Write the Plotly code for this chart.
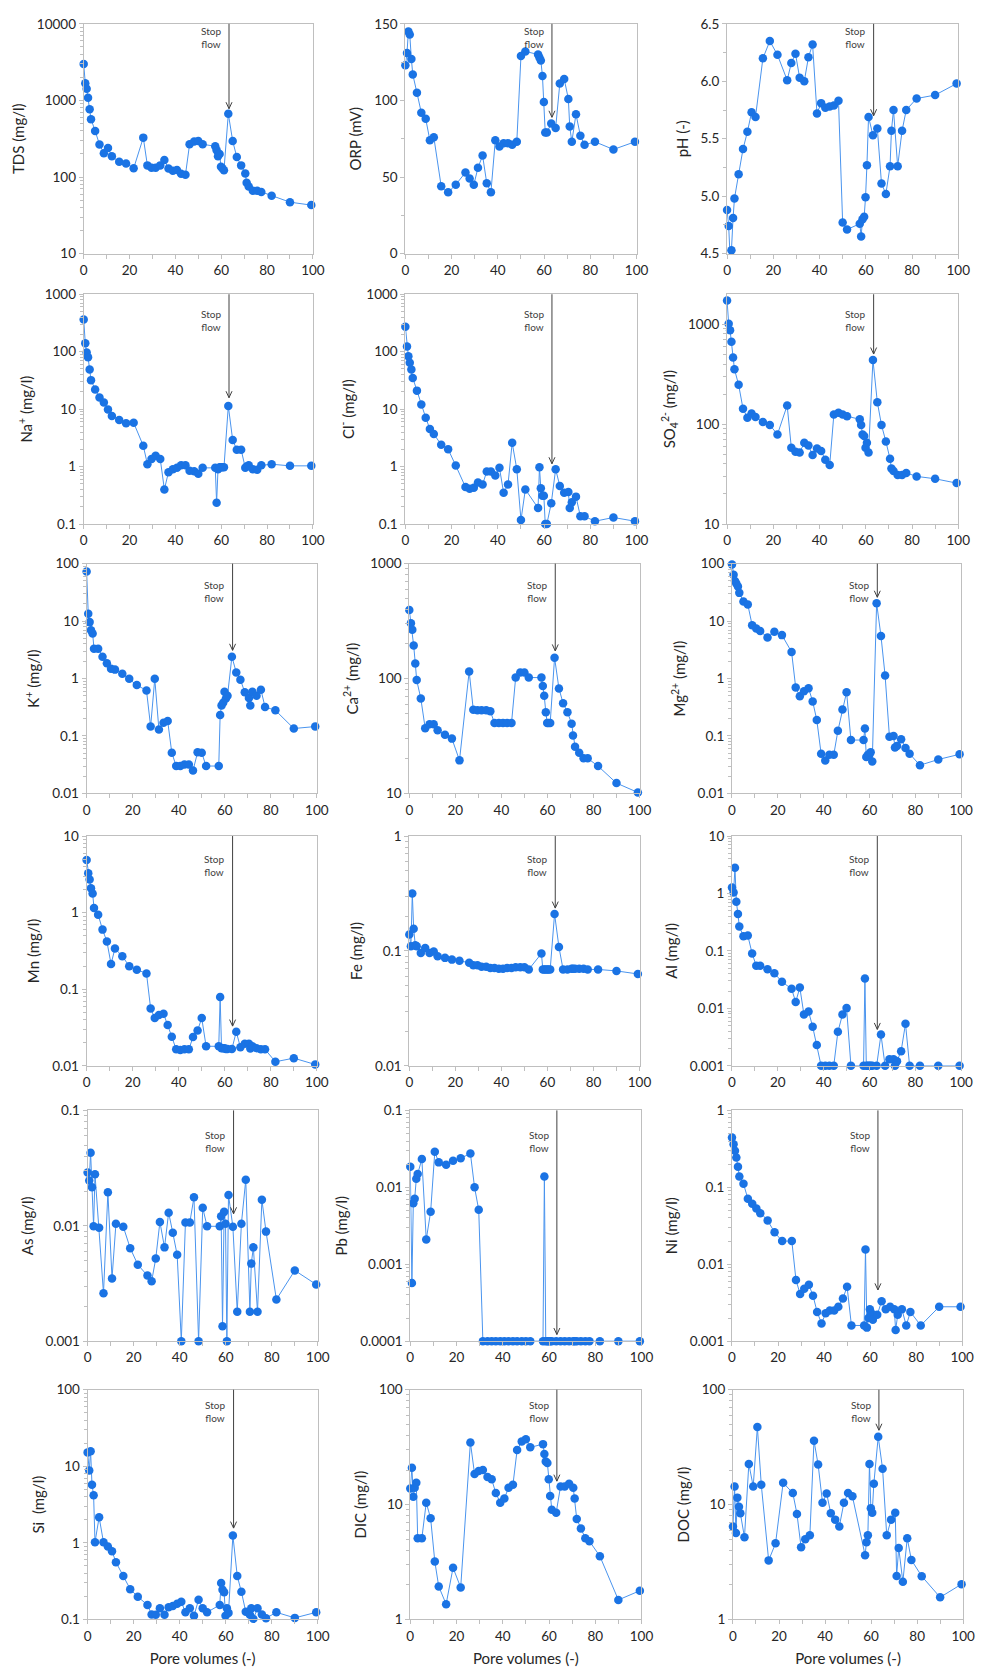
import math
import plotly.graph_objects as go

# ---------------- data ----------------
PV = [0, 0.7, 1.3, 1.9, 2.6, 3.2, 5, 6.9, 8.8, 10.6, 12.3, 15.5, 18.5, 21.8,
      26, 27.8, 29.6, 31.4, 33.4, 35.2, 37, 38.9, 40.7, 42.5, 44.4, 46.2, 48.2, 50, 51.9,
      57.4, 58, 58.6, 59.3, 59.9, 60.5, 61.2, 63.1, 65, 66.8, 68.7, 70.5, 71.1, 72, 73.8,
      75.7, 77.5, 82, 90, 99.3]

TDS = [3000, 1680, 1420, 1086, 767, 570, 400, 266, 205, 240, 187, 158, 150, 130,
       327, 142, 132, 132, 142, 167, 129, 121, 124, 110, 107, 268, 291, 296, 268,
       252, 223, 187, 200, 136, 130, 123, 668, 296, 182, 142, 111, 84, 75, 66, 66, 64,
       57, 47, 43]
ORP = [123, 131, 145, 143, 127, 117, 105, 92, 88, 74, 76, 44, 40, 45,
       53, 49, 45, 56, 64, 46, 40, 74, 70, 72, 72, 71, 73, 129, 132,
       130, 128, 126, 116, 99, 79, 79, 85, 82, 111, 114, 101, 83, 73, 91, 77, 71,
       73, 68, 73]
PH = [4.88, 4.74, 4.48, 4.53, 4.81, 4.98, 5.19, 5.41, 5.56, 5.73, 5.69, 6.20, 6.35, 6.23,
      6.01, 6.16, 6.24, 6.03, 6.00, 6.21, 6.32, 5.72, 5.81, 5.77, 5.78, 5.79, 5.83, 4.77, 4.71,
      4.76, 4.65, 4.80, 4.82, 4.99, 5.27, 5.69, 5.53, 5.59, 5.11, 5.02, 5.26, 5.57, 5.75, 5.26,
      5.57, 5.75, 5.85, 5.88, 5.98]
NA = [365, 140, 97, 80, 49, 32, 22, 16, 13, 9.9, 7.6, 6.5, 5.7, 5.8,
      2.3, 1.1, 1.36, 1.55, 1.36, 0.40, 0.80, 0.90, 0.95, 1.05, 1.05, 0.85, 0.83, 0.75, 0.95,
      0.95, 0.235, 0.9, 0.97, 0.97, 0.97, 0.97, 11.3, 2.9, 1.97, 1.97, 0.95, 1.0, 1.05, 0.9,
      0.88, 1.05, 1.1, 1.03, 1.03]
CL = [273, 123, 83, 64, 49, 35, 21, 12, 7.1, 4.5, 3.7, 2.4, 2.0, 1.04,
      0.44, 0.41, 0.43, 0.53, 0.49, 0.82, 0.82, 0.7, 0.95, 0.35, 0.49, 2.6, 0.9, 0.117, 0.40,
      0.19, 0.97, 0.42, 0.31, 0.31, 0.1, 0.1, 0.23, 0.9, 0.46, 0.35, 0.36, 0.19, 0.24, 0.3,
      0.136, 0.136, 0.112, 0.13, 0.112]
SO4 = [1730, 1015, 872, 668, 464, 355, 248, 143, 116, 128, 118, 105, 98, 79,
       154, 58, 53, 52, 65, 61, 49, 57, 54, 44, 39, 125, 130, 125, 120,
       112, 98, 79, 76, 58, 65, 52, 440, 166, 98, 67, 45, 36, 34, 31, 31, 32.5,
       30, 28.4, 25.7]
K = [73, 13.4, 9.6, 6.9, 6.1, 3.3, 3.3, 2.4, 1.85, 1.48, 1.43, 1.21, 0.99, 0.77,
     0.62, 0.146, 0.99, 0.13, 0.17, 0.183, 0.051, 0.030, 0.030, 0.032, 0.032, 0.025, 0.052, 0.051, 0.030,
     0.030, 0.232, 0.34, 0.38, 0.59, 0.45, 0.5, 2.4, 1.28, 0.95, 0.58, 0.46, 0.34, 0.59, 0.5,
     0.64, 0.32, 0.28, 0.135, 0.146]
CA = [395, 303, 266, 194, 135, 97, 67, 37, 40, 40, 35.5, 32.5, 30, 19.4,
      115, 53.5, 53, 53, 53, 52, 41, 41, 41, 41, 41, 102, 113, 113, 102,
      102, 86, 71, 51, 41, 41, 41, 152, 82, 61, 51, 40.5, 32, 25.5, 22.6, 20.2, 20.2,
      17.3, 12.3, 10.2]
MG = [97, 64, 50, 45, 40, 31, 22, 19.4, 8.5, 7.4, 6.7, 5.2, 6.5, 5.7,
      2.9, 0.70, 0.49, 0.6, 0.68, 0.40, 0.19, 0.049, 0.0375, 0.047, 0.047, 0.123, 0.29, 0.58, 0.085,
      0.085, 0.135, 0.043, 0.047, 0.047, 0.052, 0.036, 20.5, 5.5, 1.13, 0.097, 0.1, 0.063, 0.067,
      0.088, 0.062, 0.049, 0.031, 0.039, 0.048]
MN = [4.85, 3.26, 2.7, 2.08, 1.78, 1.15, 0.94, 0.60, 0.42, 0.213, 0.34, 0.27, 0.20, 0.18,
      0.161, 0.056, 0.042, 0.046, 0.048, 0.034, 0.024, 0.0164, 0.0161, 0.0164, 0.0164, 0.0237,
      0.029, 0.042, 0.018, 0.018, 0.079, 0.0169, 0.017, 0.017, 0.0166, 0.0166,
      0.0166, 0.0278, 0.0175, 0.0194, 0.0194, 0.0168, 0.018, 0.017, 0.0164, 0.0164,
      0.0113, 0.0126, 0.0104]
FE = [0.139, 0.11, 0.316, 0.156, 0.112, 0.11, 0.096, 0.106, 0.096, 0.099, 0.09, 0.087, 0.084, 0.082,
      0.079, 0.075, 0.075, 0.073, 0.073, 0.071, 0.071, 0.07, 0.07, 0.071, 0.071, 0.072, 0.072, 0.072,
      0.069, 0.095, 0.069, 0.069, 0.069, 0.069, 0.069, 0.069, 0.21, 0.108, 0.069, 0.069, 0.07,
      0.07, 0.07, 0.07, 0.07, 0.069, 0.069, 0.067, 0.063]
AL = [1.27, 1.04, 2.8, 0.72, 0.44, 0.266, 0.18, 0.185, 0.09, 0.055, 0.055, 0.048, 0.041, 0.029,
      0.0219, 0.0129, 0.023, 0.0078, 0.0088, 0.0048, 0.0023, 0.001, 0.001, 0.001, 0.001, 0.0039,
      0.0078, 0.0101, 0.001, 0.001, 0.033, 0.001, 0.001, 0.001, 0.001, 0.001,
      0.001, 0.0035, 0.001, 0.0013, 0.0013, 0.001, 0.0012, 0.0018, 0.0054, 0.001,
      0.001, 0.001, 0.001]
AS = [0.029, 0.0247, 0.043, 0.0216, 0.0099, 0.028, 0.0096, 0.0026, 0.0195, 0.0035, 0.0104,
      0.0098, 0.0064, 0.0046, 0.0037, 0.0033, 0.0052, 0.0108, 0.0065, 0.013, 0.0087, 0.0056,
      0.001, 0.0107, 0.0107, 0.0177, 0.001, 0.0143, 0.0099, 0.0099, 0.0121, 0.00135, 0.0132,
      0.0104, 0.001, 0.0185, 0.0098, 0.0018, 0.0104, 0.025, 0.0018, 0.0047, 0.0065, 0.0018,
      0.0168, 0.0089, 0.0023, 0.0041, 0.0031]
PB = [0.0185, 0.00057, 0.0062, 0.0071, 0.0129, 0.0149, 0.0233, 0.0021, 0.0048, 0.029, 0.0211,
      0.0197, 0.0222, 0.0238, 0.0276, 0.01, 0.0051, 0.0001, 0.0001, 0.0001, 0.0001, 0.0001,
      0.0001, 0.0001, 0.0001, 0.0001, 0.0001, 0.0001, 0.0001, 0.0001, 0.0138, 0.0001, 0.0001,
      0.0001, 0.0001, 0.0001, 0.0001, 0.0001, 0.0001, 0.0001, 0.0001, 0.0001, 0.0001, 0.0001,
      0.0001, 0.0001, 0.0001, 0.0001, 0.0001]
NI = [0.444, 0.364, 0.299, 0.245, 0.185, 0.138, 0.111, 0.071, 0.061, 0.053, 0.046, 0.037, 0.026,
      0.020, 0.020, 0.00625, 0.0041, 0.0048, 0.0054, 0.0039, 0.0024, 0.0017, 0.0023, 0.0025,
      0.0025, 0.0028, 0.0036, 0.0051, 0.0016, 0.0016, 0.0156, 0.0015, 0.002, 0.0026, 0.0023,
      0.0019, 0.0022, 0.0033, 0.0026, 0.0028, 0.0026, 0.0014, 0.0022, 0.0026, 0.0016, 0.0024,
      0.0016, 0.0028, 0.0028]
SI = [15.2, 8.8, 15.7, 5.75, 4.2, 1.02, 2.16, 1.02, 0.90, 0.78, 0.56, 0.37, 0.249, 0.198,
      0.155, 0.116, 0.115, 0.14, 0.115, 0.145, 0.15, 0.16, 0.17, 0.124, 0.14, 0.112, 0.181, 0.14,
      0.124, 0.155, 0.30, 0.245, 0.227, 0.112, 0.14, 0.122, 1.25, 0.37, 0.23, 0.126, 0.115, 0.14,
      0.102, 0.14, 0.116, 0.104, 0.124, 0.105, 0.124]
DIC = [13.8, 20.9, 11.7, 14, 15.5, 5.1, 5.1, 10.4, 7.6, 3.2, 1.94, 1.36, 2.82, 1.9,
       34.7, 18.5, 19.6, 20, 17.4, 16.6, 12.6, 10.4, 11.3, 14, 14.9, 29.8, 35.5, 37.1, 31.5,
       33.6, 27.6, 23.7, 23, 16.6, 11.9, 9, 8.5, 14.4, 14.4, 15.2, 14, 11.3, 7.5, 6.2, 5.1, 4.8,
       3.56, 1.48, 1.78]
DOC = [6.45, 14.4, 5.65, 11.5, 9.6, 8.4, 5.2, 22.6, 14.4, 47.4, 14.9, 3.27, 4.6, 15.5,
       12.6, 8.3, 4.25, 5.0, 5.4, 35.9, 22.3, 10.4, 12.5, 8.4, 7.4, 6.45, 10.4, 12.6, 11.8,
       3.63, 4.7, 5.4, 22.6, 9.3, 8.5, 15.2, 38.9, 20.5, 5.4, 7.4, 8.5, 2.39, 4.2, 2.13, 5.1, 3.3,
       2.38, 1.56, 2.03]

TITLES = ["TDS (mg/l)", "ORP (mV)", "pH (-)",
          "Na<sup>+</sup> (mg/l)", "Cl<sup>-</sup> (mg/l)", "SO<sub>4</sub><sup>2-</sup> (mg/l)",
          "K<sup>+</sup> (mg/l)", "Ca<sup>2+</sup> (mg/l)", "Mg<sup>2+</sup> (mg/l)",
          "Mn (mg/l)", "Fe (mg/l)", "Al (mg/l)",
          "As (mg/l)", "Pb (mg/l)", "Ni (mg/l)",
          "Si  (mg/l)", "DIC (mg/l)", "DOC (mg/l)"]
SERIES = [TDS, ORP, PH, NA, CL, SO4, K, CA, MG, MN, FE, AL, AS, PB, NI, SI, DIC, DOC]
# y ranges: log panels as decade exponents, linear panels as values
YRANGES = [(1, 4), (0, 150), (4.5, 6.5), (-1, 3), (-1, 3), (1, math.log10(2000)),
           (-2, 2), (1, 3), (-2, 2), (-2, 1), (-2, 0), (-3, 1),
           (-3, -1), (-4, -1), (-3, 0), (-1, 2), (0, 2), (0, 2)]
LINEAR = {1: (50, 25, "d"), 2: (0.5, 0.25, ".1f")}
STOP_PV = 63.4
STOP_TIP = [780, 89, 5.70, 15.8, 1.12, 504, 3.1, 174, 26, 0.033, 0.236, 0.0043,
            0.0127, 0.000122, 0.00464, 1.56, 16, 44.4]
X_TICKS = [0, 20, 40, 60, 80, 100]
X_TITLE = "Pore volumes (-)"

# ---------------- layout geometry (pixels) ----------------
W, H = 985, 1679
ROWS = [(16, 248), (289, 521), (561, 793), (836, 1068), (1113, 1346), (1395, 1627)]
COLS = [[(81, 314), (408, 643), (735, 970)],
        [(81, 314), (408, 643), (735, 970)],
        [(84, 318), (412, 646), (740, 973)],
        [(84, 318), (412, 646), (740, 973)],
        [(85, 319), (413, 648), (740, 974)],
        [(85, 319), (413, 648), (741, 975)]]
TEXT_OFF = [14, 26.5, 28, 30, 31.5, 22.5]

FONT = "Lato, 'Liberation Sans', Arial, sans-serif"
TXT = "#262626"
AXC = "#bfbfbf"
MARK = "#1a73e4"
LINEC = "#4a94ee"
ARROWC = "#404040"


def log_label(e):
    return str(10 ** e) if e >= 0 else f"{10 ** e:.{-e}f}"


fig = go.Figure()
layout = dict(width=W, height=H, margin=dict(l=0, r=0, t=0, b=0),
              paper_bgcolor="white", plot_bgcolor="white",
              font=dict(family=FONT, color=TXT, size=13), showlegend=False)
annotations = []
shapes = []

for i in range(18):
    r, c = divmod(i, 3)
    n = i + 1
    sx = "" if n == 1 else str(n)
    (x0, x1), (yt, yb) = COLS[r][c], ROWS[r]
    xdom = [x0 / W, x1 / W]
    ydom = [1 - yb / H, 1 - yt / H]
    lo, hi = YRANGES[i]
    is_lin = i in LINEAR

    fig.add_trace(go.Scatter(
        x=PV, y=SERIES[i], mode="lines+markers", cliponaxis=False,
        marker=dict(size=8.5, color=MARK), line=dict(color=LINEC, width=1),
        xaxis="x" + sx, yaxis="y" + sx, hoverinfo="x+y"))

    xax = dict(
        domain=xdom, anchor="y" + sx, range=[0, 100], tickmode="array", tickvals=X_TICKS,
        ticks="outside", ticklen=4, tickcolor=AXC, showline=True, linecolor=AXC, mirror=True,
        showgrid=False, zeroline=False, tickfont=dict(size=13.5),
        minor=dict(tickmode="linear", tick0=0, dtick=10, ticks="outside", ticklen=4,
                   tickcolor=AXC, showgrid=False))
    if r == 5:
        xax["title"] = dict(text=X_TITLE, font=dict(size=15), standoff=10)
    layout["xaxis" + sx] = xax

    if is_lin:
        dt, mdt, fmt = LINEAR[i]
        yax = dict(type="linear", range=[lo, hi], tickmode="linear", tick0=lo, dtick=dt,
                   tickformat=fmt,
                   minor=dict(tickmode="linear", tick0=lo, dtick=mdt, ticks="outside",
                              ticklen=3, tickcolor=AXC, showgrid=False))
        frac = (STOP_TIP[i] - lo) / (hi - lo)
    else:
        exps = list(range(int(math.floor(lo + 1e-9)), int(math.floor(hi + 1e-9)) + 1))
        minors = [m * 10 ** e for e in range(int(lo), int(math.ceil(hi)))
                  for m in range(2, 10) if math.log10(m * 10 ** e) < hi]
        yax = dict(type="log", range=[lo, hi], tickmode="array",
                   tickvals=[10 ** e for e in exps], ticktext=[log_label(e) for e in exps],
                   minor=dict(tickmode="array", tickvals=minors, ticks="outside",
                              ticklen=3, tickcolor=AXC, showgrid=False))
        frac = (math.log10(STOP_TIP[i]) - lo) / (hi - lo)
    yax.update(domain=ydom, anchor="x" + sx, ticks="outside", ticklen=4, tickcolor=AXC,
               showline=True, linecolor=AXC, mirror=True, showgrid=False, zeroline=False,
               tickfont=dict(size=13.5),
               title=dict(text=TITLES[i], font=dict(size=15), standoff=8))
    layout["yaxis" + sx] = yax

    annotations.append(dict(
        xref="x" + sx, yref=f"y{sx} domain", x=55.5, y=1 - TEXT_OFF[r] / (yb - yt),
        text="Stop<br>flow", showarrow=False, font=dict(size=10, color="#404040"),
        xanchor="center", yanchor="middle"))
    # "stop flow" arrow: shaft from the top of the panel, open V head at the tip
    shapes.append(dict(type="line", xref="x" + sx, yref=f"y{sx} domain",
                       x0=STOP_PV, x1=STOP_PV, y0=1, y1=frac,
                       line=dict(color=ARROWC, width=1)))
    shapes.append(dict(type="path", xref="x" + sx, yref=f"y{sx} domain",
                       xsizemode="pixel", ysizemode="pixel", xanchor=STOP_PV, yanchor=frac,
                       path="M-3,6.5 L0,0 L3,6.5", line=dict(color=ARROWC, width=1)))

layout["annotations"] = annotations
layout["shapes"] = shapes
fig.update_layout(**layout)
fig.write_html("out.html")
